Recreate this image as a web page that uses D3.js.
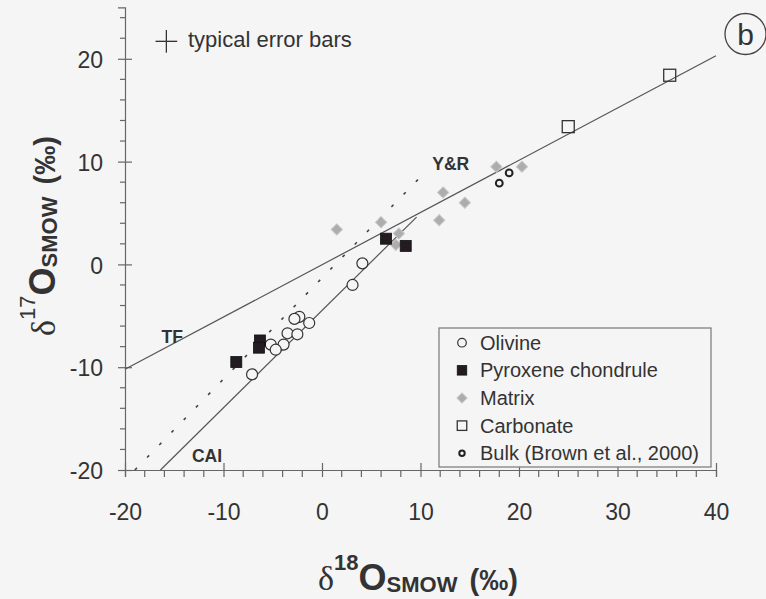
<!DOCTYPE html>
<html>
<head>
<meta charset="utf-8">
<script src="https://cdn.jsdelivr.net/npm/d3@7"></script>
<style>
  body { margin: 0; background: #f5f5f5; }
  svg { display: block; }
  text { font-family: "Liberation Sans", Arial, sans-serif; fill: #333; }
</style>
</head>
<body>
<div class="chart"></div>
<script>
// δ18O (x), δ17O (y)
const olivine = [
  { x: 4.1, y: 0.1 }, { x: 3.1, y: -2.0 }, { x: -2.3, y: -5.1 }, { x: -2.8, y: -5.3 },
  { x: -1.3, y: -5.7 }, { x: -3.5, y: -6.7 }, { x: -2.5, y: -6.8 }, { x: -3.9, y: -7.8 },
  { x: -5.2, y: -7.8 }, { x: -4.7, y: -8.3 }, { x: -7.1, y: -10.7 }
]
const pyroxene = [
  { x: 6.5, y: 2.5 }, { x: 8.5, y: 1.8 }, { x: -8.7, y: -9.5 },
  { x: -6.3, y: -7.4 }, { x: -6.4, y: -8.1 }
]
const matrix = [
  { x: 1.5, y: 3.4 }, { x: 6.0, y: 4.1 }, { x: 7.8, y: 3.0 }, { x: 7.5, y: 1.9 },
  { x: 12.3, y: 7.0 }, { x: 14.5, y: 6.0 }, { x: 11.9, y: 4.3 },
  { x: 17.7, y: 9.5 }, { x: 20.3, y: 9.5 }
]
const carbonate = [{ x: 25.0, y: 13.4 }, { x: 35.3, y: 18.4 }]
const bulk = [{ x: 18.0, y: 7.9 }, { x: 19.0, y: 8.9 }]

const tfLine = [{ x: -20, y: -10.2 }, { x: 40, y: 20.3 }]
const caiLine = [{ x: -16.4, y: -20 }, { x: 9.6, y: 4.6 }]
const yrLine = [{ x: -19, y: -20 }, { x: 10, y: 8.5 }]

const lineLabels = [
  { text: 'TF', x: -16.3, y: -7.6 },
  { text: 'CAI', x: -13.2, y: -19.2 },
  { text: 'Y&R', x: 11.2, y: 9.2 }
]
const errorBar = { x: -15.8, y: 21.7, dx: 1.1, dy: 1.1 }

const xMajor = [-20, -10, 0, 10, 20, 30, 40]
const yMajor = [-20, -10, 0, 10, 20]
const xMinor = d3.range(-20, 41, 2).filter(v => v % 10 !== 0)
const yMinor = d3.range(-20, 25, 2).filter(v => v % 10 !== 0)

const legendItems = ['Olivine', 'Pyroxene chondrule', 'Matrix', 'Carbonate', 'Bulk (Brown et al., 2000)']

const width = 766
const height = 599
const axisColor = '#666'

const xScale = d3.scaleLinear().domain([-20, 40]).range([125, 716])
const yScale = d3.scaleLinear().domain([-20, 25]).range([470, 7.4])

const svg = d3.select('.chart')
  .append('svg')
  .attr('width', width)
  .attr('height', height)

svg.append('rect')
  .attr('width', width)
  .attr('height', height)
  .attr('fill', '#f5f5f5')

// axes
const xAxis = svg.append('g')
  .attr('transform', `translate(0,${yScale(-20)})`)
  .call(d3.axisBottom(xScale).tickValues(xMajor).tickFormat(d => String(d)).tickSizeOuter(0).tickSize(7))
xAxis.selectAll('.tick line').attr('y1', -7).attr('y2', 7)
xAxis.selectAll('.tick text').attr('y', 50).attr('dy', 0).style('font-size', '23px')

xAxis.selectAll('.minor')
  .data(xMinor)
  .enter()
  .append('line')
  .attr('class', 'minor')
  .attr('x1', d => xScale(d))
  .attr('x2', d => xScale(d))
  .attr('y1', 0)
  .attr('y2', 7)

const yAxis = svg.append('g')
  .attr('transform', `translate(${xScale(-20)},0)`)
  .call(d3.axisLeft(yScale).tickValues(yMajor).tickFormat(d => String(d)).tickSizeOuter(0).tickSize(7))
yAxis.selectAll('.tick line').attr('x1', -7).attr('x2', 7)
yAxis.selectAll('.tick text').attr('x', -22).attr('dy', '0.38em').style('font-size', '23px')

yAxis.selectAll('.minor')
  .data(yMinor)
  .enter()
  .append('line')
  .attr('class', 'minor')
  .attr('x1', -5)
  .attr('x2', 0)
  .attr('y1', d => yScale(d))
  .attr('y2', d => yScale(d))

svg.selectAll('.domain, .tick line, .minor')
  .attr('stroke', axisColor)
  .attr('stroke-width', 1.2)
svg.selectAll('.tick text').attr('fill', '#3a3a3a')

// reference lines
const line = d3.line().x(d => xScale(d.x)).y(d => yScale(d.y))

svg.append('path')
  .datum(tfLine)
  .attr('d', line)
  .attr('fill', 'none')
  .attr('stroke', '#555')
  .attr('stroke-width', 1.2)

svg.append('path')
  .datum(caiLine)
  .attr('d', line)
  .attr('fill', 'none')
  .attr('stroke', '#555')
  .attr('stroke-width', 1.2)

svg.append('path')
  .datum(yrLine)
  .attr('d', line)
  .attr('fill', 'none')
  .attr('stroke', '#444')
  .attr('stroke-width', 1.6)
  .attr('stroke-dasharray', '3,14.5')

svg.selectAll('.line-label')
  .data(lineLabels)
  .enter()
  .append('text')
  .attr('class', 'line-label')
  .attr('x', d => xScale(d.x))
  .attr('y', d => yScale(d.y))
  .style('font-size', '17.5px')
  .style('font-weight', 'bold')
  .attr('fill', '#2e2e2e')
  .text(d => d.text)

// markers
const drawMarker = (g, type, s) => {
  if (type === 'olivine') {
    g.append('circle').attr('r', s * 0.5)
      .attr('fill', '#f5f5f5').attr('stroke', '#333').attr('stroke-width', 1.2)
  } else if (type === 'pyroxene') {
    g.append('rect').attr('x', -s / 2).attr('y', -s / 2).attr('width', s).attr('height', s)
      .attr('fill', '#221c22').attr('stroke', '#111').attr('stroke-width', 0.8)
  } else if (type === 'matrix') {
    g.append('rect').attr('x', -s * 0.36).attr('y', -s * 0.36).attr('width', s * 0.72).attr('height', s * 0.72)
      .attr('transform', 'rotate(45)')
      .attr('fill', '#adadad').attr('stroke', '#c6c6c6').attr('stroke-width', 1)
  } else if (type === 'carbonate') {
    g.append('rect').attr('x', -s / 2).attr('y', -s / 2).attr('width', s).attr('height', s)
      .attr('fill', 'none').attr('stroke', '#333').attr('stroke-width', 1.3)
  } else if (type === 'bulk') {
    g.append('circle').attr('r', s * 0.34)
      .attr('fill', 'none').attr('stroke', '#222').attr('stroke-width', 2)
  }
}

const series = [
  { type: 'matrix', data: matrix, size: 11 },
  { type: 'olivine', data: olivine, size: 11 },
  { type: 'pyroxene', data: pyroxene, size: 11 },
  { type: 'carbonate', data: carbonate, size: 12 },
  { type: 'bulk', data: bulk, size: 10 }
]

series.forEach(s => {
  svg.selectAll(`.pt-${s.type}`)
    .data(s.data)
    .enter()
    .append('g')
    .attr('class', `pt-${s.type}`)
    .attr('transform', d => `translate(${xScale(d.x)},${yScale(d.y)})`)
    .each(function () { drawMarker(d3.select(this), s.type, s.size) })
})

// typical error bars
const eb = svg.append('g').attr('stroke', '#333').attr('stroke-width', 1.3)
eb.append('line')
  .attr('x1', xScale(errorBar.x - errorBar.dx)).attr('x2', xScale(errorBar.x + errorBar.dx))
  .attr('y1', yScale(errorBar.y)).attr('y2', yScale(errorBar.y))
eb.append('line')
  .attr('x1', xScale(errorBar.x)).attr('x2', xScale(errorBar.x))
  .attr('y1', yScale(errorBar.y - errorBar.dy)).attr('y2', yScale(errorBar.y + errorBar.dy))
svg.append('text')
  .attr('x', 188)
  .attr('y', 47)
  .style('font-size', '22px')
  .text('typical error bars')

// panel label
svg.append('circle')
  .attr('cx', 745.5).attr('cy', 34).attr('r', 20.5)
  .attr('fill', 'none').attr('stroke', '#444').attr('stroke-width', 1.3)
svg.append('text')
  .attr('x', 745.5).attr('y', 45)
  .attr('text-anchor', 'middle')
  .style('font-size', '30px')
  .text('b')

// legend
const legend = svg.append('g')
legend.append('rect')
  .attr('x', 439).attr('y', 328).attr('width', 272).attr('height', 139)
  .attr('fill', '#f5f5f5').attr('stroke', '#777').attr('stroke-width', 1.2)

const legendTypes = ['olivine', 'pyroxene', 'matrix', 'carbonate', 'bulk']
const legendSizes = [8.6, 9.5, 10, 9.5, 8]
legendItems.forEach((label, i) => {
  const cy = 342.7 + i * 27.65
  const g = legend.append('g').attr('transform', `translate(462,${cy})`)
  drawMarker(g, legendTypes[i], legendSizes[i])
  legend.append('text')
    .attr('x', 480).attr('y', cy + 7)
    .style('font-size', '20px')
    .text(label)
})

// axis titles
const title = (sel, sup, supWeight) => {
  sel.append('tspan').style('font-family', '"Liberation Serif", "Times New Roman", serif')
    .style('font-size', '34px').text('δ')
  sel.append('tspan').attr('dy', -20).style('font-size', '22px').style('font-weight', supWeight).text(sup)
  sel.append('tspan').attr('dy', 20).style('font-size', '36px').style('font-weight', 'bold').text('O')
  sel.append('tspan').attr('dy', 2).style('font-size', '22px').style('font-weight', 'bold').text('SMOW')
  sel.append('tspan').attr('dy', -2).attr('dx', 4).style('font-size', '29px').style('font-weight', 'bold').text(' (‰)')
}

svg.append('text')
  .attr('x', 318).attr('y', 590)
  .call(title, '18', 'bold')

svg.append('text')
  .attr('transform', 'translate(55,336) rotate(-90)')
  .call(title, '17', 'normal')
</script>
</body>
</html>
